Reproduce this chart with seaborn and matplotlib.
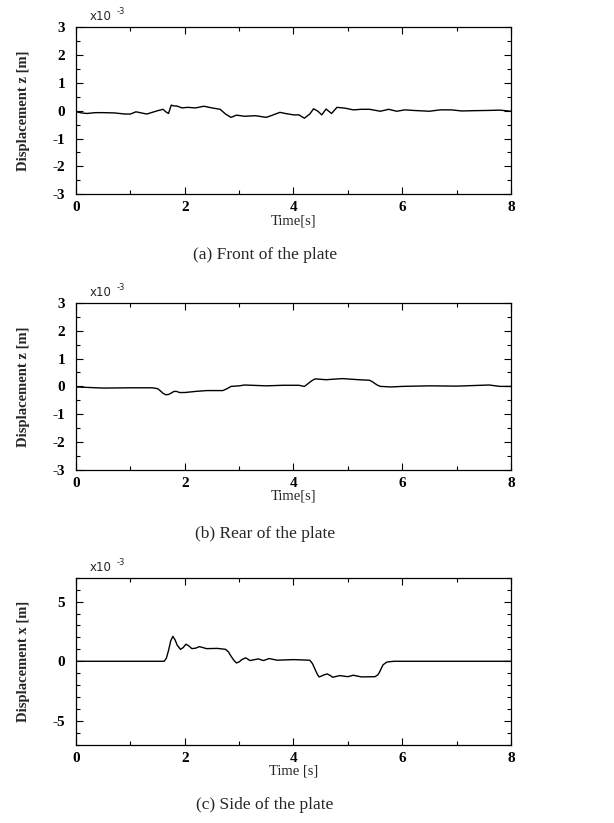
import matplotlib
matplotlib.use("Agg")
import matplotlib.pyplot as plt
import seaborn as sns
import pandas as pd
from matplotlib.ticker import MultipleLocator

# ---- data (displacement in units of 1e-3 m) ----
t_front = [0.0, 0.1, 0.2, 0.35, 0.5, 0.7, 0.9, 1.0, 1.1, 1.2, 1.3, 1.4, 1.5, 1.6, 1.65,
           1.7, 1.75, 1.8, 1.85, 1.95, 2.05, 2.2, 2.35, 2.5, 2.65, 2.75, 2.85, 2.95,
           3.1, 3.3, 3.5, 3.6, 3.75, 3.85, 4.0, 4.1, 4.2, 4.3, 4.37, 4.45, 4.52, 4.6,
           4.7, 4.8, 4.95, 5.1, 5.25, 5.4, 5.6, 5.75, 5.9, 6.05, 6.2, 6.5, 6.7, 6.9,
           7.1, 7.3, 7.6, 7.8, 8.0]
z_front = [-0.04, -0.08, -0.1, -0.07, -0.07, -0.08, -0.12, -0.12, -0.04, -0.08, -0.12,
           -0.06, 0.0, 0.05, -0.04, -0.1, 0.2, 0.17, 0.17, 0.1, 0.12, 0.1, 0.16, 0.1,
           0.05, -0.12, -0.24, -0.16, -0.2, -0.18, -0.24, -0.17, -0.06, -0.1, -0.15,
           -0.15, -0.27, -0.12, 0.07, -0.02, -0.15, 0.06, -0.1, 0.12, 0.09, 0.03, 0.05,
           0.05, -0.02, 0.05, -0.02, 0.03, 0.01, -0.02, 0.03, 0.03, -0.01, 0.0, 0.01,
           0.02, -0.02]

t_rear = [0.0, 0.5, 1.0, 1.4, 1.5, 1.55, 1.6, 1.65, 1.7, 1.75, 1.8, 1.85, 1.9, 2.0, 2.2,
          2.4, 2.7, 2.78, 2.85, 3.0, 3.1, 3.5, 3.8, 4.1, 4.2, 4.25, 4.3, 4.35, 4.4, 4.6,
          4.9, 5.2, 5.4, 5.45, 5.5, 5.55, 5.6, 5.8, 6.0, 6.5, 7.0, 7.6, 7.8, 8.0]
z_rear = [-0.02, -0.06, -0.05, -0.05, -0.08, -0.16, -0.25, -0.3, -0.29, -0.24, -0.18,
          -0.18, -0.22, -0.22, -0.18, -0.15, -0.15, -0.08, 0.0, 0.02, 0.05, 0.02, 0.04,
          0.04, 0.0, 0.07, 0.15, 0.22, 0.27, 0.24, 0.28, 0.24, 0.22, 0.17, 0.1, 0.04, 0.0,
          -0.02, 0.0, 0.02, 0.01, 0.05, 0.0, 0.0]

t_side = [0.0, 1.62, 1.66, 1.7, 1.74, 1.78, 1.82, 1.86, 1.92, 1.97, 2.02, 2.07, 2.13,
          2.2, 2.27, 2.33, 2.4, 2.6, 2.75, 2.8, 2.85, 2.9, 2.95, 3.0, 3.05, 3.12, 3.2,
          3.35, 3.45, 3.55, 3.7, 4.0, 4.3, 4.35, 4.4, 4.44, 4.47, 4.51, 4.56, 4.62, 4.68,
          4.72, 4.85, 5.0, 5.1, 5.25, 5.5, 5.55, 5.58, 5.62, 5.65, 5.72, 5.85, 8.0]
x_side = [0.0, 0.0, 0.25, 0.9, 1.7, 2.09, 1.8, 1.35, 1.0, 1.15, 1.43, 1.3, 1.06, 1.1,
          1.23, 1.15, 1.06, 1.08, 1.0, 0.8, 0.43, 0.1, -0.14, -0.05, 0.14, 0.29, 0.06,
          0.2, 0.06, 0.23, 0.09, 0.14, 0.09, -0.2, -0.71, -1.1, -1.31, -1.25, -1.14,
          -1.06, -1.2, -1.34, -1.2, -1.29, -1.17, -1.31, -1.29, -1.15, -0.94, -0.55,
          -0.29, -0.06, 0.0, 0.0]

panels = [
    (t_front, z_front, "Displacement z [m]", "Time[s]", 3, 1, 0.5, "(a) Front of the plate"),
    (t_rear, z_rear, "Displacement z [m]", "Time[s]", 3, 1, 0.5, "(b) Rear of the plate"),
    (t_side, x_side, "Displacement x [m]", "Time [s]", 7, 5, 1, "(c) Side of the plate"),
]

sns.set_style("ticks")
plt.rcParams["font.family"] = ["Liberation Serif", "DejaVu Serif"]
plt.rcParams["axes.unicode_minus"] = False

fig = plt.figure(figsize=(6.14, 8.23), dpi=100)
boxes = [0.764, 0.429, 0.095]
caption_y = [255, 534, 805]

for (t, v, ylab, xlab, lim, major, minor, cap), b, cy in zip(panels, boxes, caption_y):
    ax = fig.add_axes([0.124, b, 0.708, 0.203])
    df = pd.DataFrame({"t": t, "v": v})
    sns.lineplot(data=df, x="t", y="v", ax=ax, color="black", linewidth=1.0,
                 estimator=None, sort=False)
    ax.set_xlim(0, 8)
    ax.set_ylim(-lim, lim)
    ax.xaxis.set_major_locator(MultipleLocator(2))
    ax.xaxis.set_minor_locator(MultipleLocator(1))
    ax.yaxis.set_major_locator(MultipleLocator(major))
    ax.yaxis.set_minor_locator(MultipleLocator(minor))
    ax.tick_params(which="both", direction="in", top=True, right=True,
                   labelsize=11, width=0.8, colors="black")
    ax.tick_params(which="major", length=5)
    ax.tick_params(which="minor", length=3)
    ax.tick_params(axis="x", pad=5)
    ax.tick_params(axis="y", pad=8)
    for lbl in ax.get_xticklabels() + ax.get_yticklabels():
        lbl.set_fontweight("bold")
    for s in ax.spines.values():
        s.set_linewidth(0.9)
        s.set_color("black")
    ax.set_xlabel(xlab, fontsize=10.5, labelpad=0)
    ax.set_ylabel(ylab, fontsize=10.5, fontweight="bold", labelpad=16)
    ax.text(0.03, 1.025, "x10", transform=ax.transAxes, fontsize=8.5,
            family="DejaVu Sans", ha="left", va="bottom")
    ax.annotate("-3", xy=(0.03, 1.025), xycoords="axes fraction", xytext=(20, 5),
                textcoords="offset points", fontsize=6, family="DejaVu Sans",
                ha="left", va="bottom")
    fig.text(265 / 614, 1 - cy / 823, cap, fontsize=12.5, ha="center", va="center")

fig.savefig("out.png", dpi=100, facecolor="white")
